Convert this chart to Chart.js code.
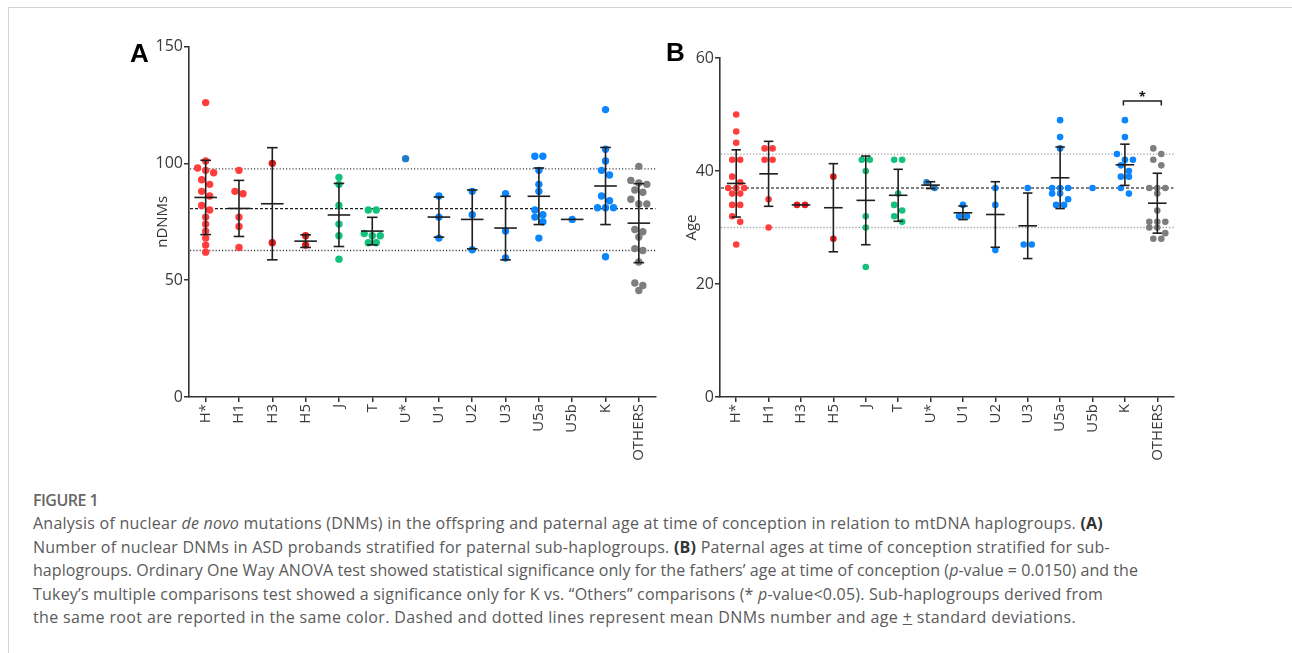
<!DOCTYPE html>
<html>
<head>
<meta charset="utf-8">
<script src="https://cdn.jsdelivr.net/npm/chart.js@4.4.0/dist/chart.umd.min.js"></script>
<style>
    body { margin: 0; width: 1292px; height: 653px; position: relative; overflow: hidden; background: #fff; font-family: 'Open Sans', sans-serif; }
    #frame { position: absolute; left: 8px; top: 7px; right: -2px; bottom: -2px; border-left: 1.5px solid #d4d4d4; border-top: 1.5px solid #d4d4d4; }
    canvas { position: absolute; }
    #chartA { left: 100px; top: 30px; }
    #chartB { left: 665px; top: 30px; }
    .panel { position: absolute; font: bold 26px 'Liberation Sans', Arial, sans-serif; line-height: 26px; color: #000; }
    .fig { position: absolute; left: 33px; top: 489.5px; font-size: 16px; font-weight: 600; line-height: 20px; color: #666; white-space: nowrap; }
    .cap { position: absolute; left: 33px; font-size: 16px; line-height: 20px; color: #5a5a5a; white-space: nowrap; }
    .cap b { color: #333; }
</style>
</head>
<body>
<div id="frame"></div>
<canvas id="chartA" width="570" height="440"></canvas>
<canvas id="chartB" width="560" height="440"></canvas>
<div class="panel" style="left:130px;top:40.3px">A</div>
<div class="panel" style="left:666px;top:39px">B</div>

<div class="fig" data-right="98">FIGURE 1</div>
<div class="cap" style="top:513.4px" data-right="1103">Analysis of nuclear <i>de novo</i> mutations (DNMs) in the offspring and paternal age at time of conception in relation to mtDNA haplogroups. <b>(A)</b></div>
<div class="cap" style="top:536.8px" data-right="1110">Number of nuclear DNMs in ASD probands stratified for paternal sub-haplogroups. <b>(B)</b> Paternal ages at time of conception stratified for sub-</div>
<div class="cap" style="top:560.2px" data-right="1138">haplogroups. Ordinary One Way ANOVA test showed statistical significance only for the fathers’ age at time of conception (<i>p</i>-value = 0.0150) and the</div>
<div class="cap" style="top:583.6px" data-right="1103">Tukey’s multiple comparisons test showed a significance only for K vs. “Others” comparisons (* <i>p</i>-value&lt;0.05). Sub-haplogroups derived from</div>
<div class="cap" style="top:607px" data-right="1076">the same root are reported in the same color. Dashed and dotted lines represent mean DNMs number and age <u>+</u> standard deviations.</div>

<script>
// data
const categories = ['H*', 'H1', 'H3', 'H5', 'J', 'T', 'U*', 'U1', 'U2', 'U3', 'U5a', 'U5b', 'K', 'OTHERS'];

// panel A - nDNMs per proband
const dnmValues = [
    [126, 101, 98, 97, 96, 93, 91, 88, 86, 82, 80, 77, 74, 71, 68, 65, 62],
    [97, 88, 87, 77, 73, 64],
    [100, 66],
    [69, 65],
    [94, 91, 82, 74, 69, 59],
    [80, 80, 70, 69, 69, 66, 66],
    [102],
    [86, 77, 68],
    [88, 78, 63],
    [87, 71, 59.5],
    [103, 103, 97, 91, 88, 80, 78, 77, 75, 68],
    [76],
    [123, 106, 101, 97, 95, 86, 84, 81, 81, 81, 60],
    [98.7, 92.7, 91.6, 91, 88.6, 87.6, 84.6, 82.6, 82.6, 71.7, 70.7, 68.5, 63.5, 62.7, 57.8, 48.8, 47.7, 45.6]
];
const dnmMean = [85.4, 80.7, 82.7, 66.7, 77.9, 71, null, 77, 76, 72.3, 85.9, 76, 90.3, 74.4];
const dnmSd = [15.9, 12, 24, 2.7, 13.5, 5.9, null, 8.6, 12.6, 13.6, 12.1, null, 16.5, 16.9];
const dnmRef = [62.7, 80.6, 97.6]; // -SD, mean, +SD
const dnmTicks = [0, 50, 100, 150];

// panel B - paternal age
const ageValues = [
    [50, 47, 45, 42, 42, 39, 38, 37, 37, 37, 36, 36, 34, 34, 32, 31, 27],
    [44, 44, 42, 42, 35, 30],
    [34, 34],
    [39, 28],
    [42, 42, 40, 32, 30, 23],
    [42, 42, 36, 34, 33, 32, 31],
    [38, 37],
    [34, 32, 32],
    [37, 34, 26],
    [37, 27, 27],
    [49, 46, 44, 37, 37, 37, 36, 36, 35, 34, 34],
    [37],
    [49, 46, 43, 42, 42, 41, 40, 39, 39, 37, 36],
    [44, 43, 42, 41, 37, 37, 37, 36, 33, 31, 31, 31, 30, 30, 29, 28, 28]
];
const ageMean = [37.8, 39.5, 34, 33.5, 34.8, 35.7, 37.5, 32.6, 32.3, 30.3, 38.8, null, 41.1, 34.3];
const ageSd = [5.95, 5.75, 0, 7.8, 7.85, 4.6, 0.6, 1.2, 5.8, 5.8, 5.45, null, 3.65, 5.3];
const ageRef = [30, 37, 43];
const ageTicks = [0, 20, 40, 60];
const sigPair = ['K', 'OTHERS'];
const sigLevel = 52.4;

// colours by root haplogroup
const RED = '#ff3d3d', DARKRED = '#e41b1b', GREEN = '#12c27b', BLUE = '#0a86ff', DARKBLUE = '#1d7dca', GREY = '#7e7e7e';
const groupColors = [RED, RED, DARKRED, DARKRED, GREEN, GREEN, DARKBLUE, BLUE, BLUE, BLUE, BLUE, BLUE, BLUE, GREY];
const AXIS = '#333';

Chart.defaults.font.family = "'Open Sans', sans-serif";

// prism-like scatter: points close in value share a row, rows are centred on the category
function swarm(chart, values, slot) {
    const x = chart.scales.x, y = chart.scales.y;
    const unit = x.getPixelForValue(1) - x.getPixelForValue(0);
    return values.map((vals, i) => {
        const sorted = vals.slice().sort((a, b) => b - a);
        const pts = [];
        let row = [];
        const flush = () => {
            row.forEach((v, j) => pts.push({ x: i + (j - (row.length - 1) / 2) * slot / unit, y: v }));
            row = [];
        };
        sorted.forEach(v => {
            if (row.length && (row.length >= 3 || y.getPixelForValue(v) - y.getPixelForValue(row[0]) >= 6)) flush();
            row.push(v);
        });
        flush();
        return pts;
    });
}

function line(ctx, x1, y1, x2, y2) {
    ctx.beginPath();
    ctx.moveTo(x1, y1);
    ctx.lineTo(x2, y2);
    ctx.stroke();
}

function summaryPlugin(cfg) {
    return {
        id: 'summary',
        beforeDatasetsDraw(chart) {
            const { ctx, chartArea: a, scales: { y } } = chart;
            ctx.save();
            cfg.ref.forEach((v, i) => {
                const py = y.getPixelForValue(v);
                const isMean = i === 1;
                ctx.strokeStyle = isMean ? cfg.meanColor : cfg.sdColor;
                ctx.lineWidth = isMean ? 1.4 : 1.3;
                ctx.setLineDash(isMean ? [3, 2] : [1.2, 2]);
                line(ctx, a.left + 1, py, a.right, py);
            });
            ctx.restore();
        },
        afterDatasetsDraw(chart) {
            const { ctx, scales: { x, y } } = chart;
            ctx.save();
            ctx.strokeStyle = '#1e1e1e';
            ctx.lineWidth = 1.6;
            cfg.mean.forEach((m, i) => {
                if (m === null) return;
                const px = x.getPixelForValue(i), py = y.getPixelForValue(m);
                line(ctx, px - cfg.meanHalf, py, px + cfg.meanHalf, py);
                const s = cfg.sd[i];
                if (!s) return;
                const top = y.getPixelForValue(m + s), bot = y.getPixelForValue(m - s);
                line(ctx, px, top, px, bot);
                line(ctx, px - cfg.capHalf, top, px + cfg.capHalf, top);
                line(ctx, px - cfg.capHalf, bot, px + cfg.capHalf, bot);
            });
            if (cfg.sig) {
                const x1 = x.getPixelForValue(categories.indexOf(cfg.sig.pair[0])) - 1.5;
                const x2 = x.getPixelForValue(categories.indexOf(cfg.sig.pair[1])) + 4;
                const py = y.getPixelForValue(cfg.sig.level);
                ctx.lineWidth = 1.5;
                ctx.beginPath();
                ctx.moveTo(x1, py + 4.5);
                ctx.lineTo(x1, py);
                ctx.lineTo(x2, py);
                ctx.lineTo(x2, py + 4.5);
                ctx.stroke();
                ctx.fillStyle = '#111';
                ctx.font = "bold 13px 'Open Sans', sans-serif";
                ctx.textAlign = 'center';
                ctx.textBaseline = 'middle';
                ctx.fillText('*', (x1 + x2) / 2, py - 4);
            }
            ctx.restore();
        }
    };
}

function buildChart(id, cfg) {
    const chart = new Chart(document.getElementById(id), {
        type: 'scatter',
        data: {
            datasets: cfg.values.map((vals, i) => ({
                data: vals.map(v => ({ x: i, y: v })),
                backgroundColor: groupColors[i],
                borderWidth: 0,
                pointRadius: cfg.radius,
                pointHoverRadius: cfg.radius
            }))
        },
        options: {
            responsive: false,
            animation: false,
            events: [],
            layout: { padding: cfg.padding },
            plugins: { legend: { display: false }, tooltip: { enabled: false } },
            scales: {
                x: {
                    type: 'linear',
                    min: -0.5,
                    max: categories.length - 0.5,
                    afterBuildTicks: ax => { ax.ticks = categories.map((c, i) => ({ value: i })); },
                    afterFit: ax => { ax.height = 73; },
                    ticks: {
                        callback: v => categories[v],
                        minRotation: 90,
                        maxRotation: 90,
                        autoSkip: false,
                        padding: 2,
                        color: '#3a3a3a',
                        font: { size: 15 }
                    },
                    grid: { drawOnChartArea: false, tickLength: 5, color: AXIS, lineWidth: 1.5 },
                    border: { color: AXIS, width: 1.6 }
                },
                y: {
                    min: cfg.ticks[0],
                    max: cfg.ticks[cfg.ticks.length - 1],
                    afterBuildTicks: ax => { ax.ticks = cfg.ticks.map(v => ({ value: v })); },
                    afterFit: ax => { ax.width = cfg.yWidth; },
                    ticks: { padding: 1, color: '#3a3a3a', font: { size: 16 } },
                    title: { display: true, text: cfg.title, padding: { top: cfg.titlePad, bottom: 0 }, color: '#333', font: { size: 15 } },
                    grid: { drawOnChartArea: false, tickLength: 5, color: AXIS, lineWidth: 1.5 },
                    border: { color: AXIS, width: 1.6 }
                }
            }
        },
        plugins: [summaryPlugin(cfg)]
    });
    const pts = swarm(chart, cfg.values, 8);
    chart.data.datasets.forEach((d, i) => { d.data = pts[i]; });
    chart.update('none');
    return chart;
}

buildChart('chartA', {
    values: dnmValues, mean: dnmMean, sd: dnmSd, ref: dnmRef, ticks: dnmTicks,
    title: 'nDNMs', titlePad: 54, yWidth: 89,
    padding: { left: 0, top: 16.5, right: 14.5, bottom: 0 },
    radius: 3.7, meanHalf: 11.3, capHalf: 5.3,
    meanColor: '#1e1e1e', sdColor: '#444'
});

buildChart('chartB', {
    values: ageValues, mean: ageMean, sd: ageSd, ref: ageRef, ticks: ageTicks,
    title: 'Age', titlePad: 18, yWidth: 55,
    padding: { left: 0, top: 28, right: 51.5, bottom: 0 },
    radius: 3.3, meanHalf: 9.3, capHalf: 4.7,
    meanColor: '#555', sdColor: '#9a9a9a',
    sig: { pair: sigPair, level: sigLevel }
});

// stretch caption lines to the original line lengths
document.querySelectorAll('.cap, .fig').forEach(el => {
    const r = el.getBoundingClientRect();
    const n = el.textContent.length;
    const target = +el.dataset.right - r.left;
    el.style.letterSpacing = ((target - r.width) / n) + 'px';
});
</script>
</body>
</html>
